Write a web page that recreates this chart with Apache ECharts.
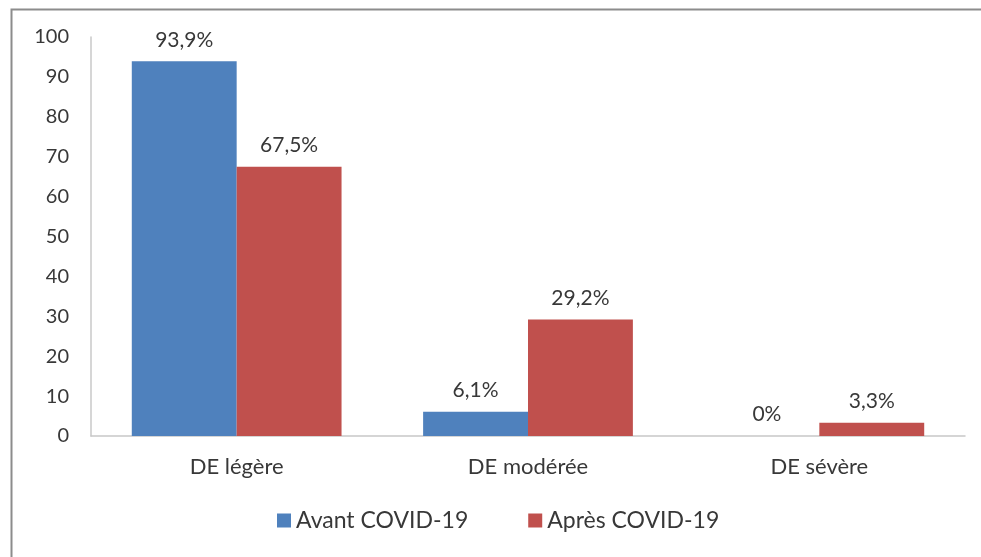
<!DOCTYPE html>
<html>
<head>
<meta charset="utf-8">
<script src="https://cdn.jsdelivr.net/npm/echarts@6/dist/echarts.min.js"></script>
<style>
  html, body { margin: 0; padding: 0; background: #fff; }
  #main { width: 981px; height: 557px; }
</style>
</head>
<body>
<div id="main"></div>
<script>
// categories and values
var categories = ['DE légère', 'DE modérée', 'DE sévère'];
var avantData = [93.9, 6.1, 0];
var apresData = [67.5, 29.2, 3.3];
var seriesNames = ['Avant COVID-19', 'Après COVID-19'];

var chart = echarts.init(document.getElementById('main'));

function pct(p) {
  return String(p.value).replace('.', ',') + '%';
}

var labelStyle = {
  show: true,
  position: 'top',
  distance: 11,
  formatter: pct,
  color: '#383838',
  fontSize: 21,
  fontFamily: 'Lato'
};

var option = {
  backgroundColor: '#fff',
  textStyle: { fontFamily: 'Lato' },
  graphic: [{
    type: 'rect',
    left: 9,
    top: 7,
    shape: { width: 990, height: 570 },
    style: { fill: 'none', stroke: '#8c8c8c', lineWidth: 2 },
    silent: true
  }],
  grid: { left: 91, right: 16, top: 37, bottom: 121 },
  legend: {
    bottom: 20,
    left: 272,
    itemWidth: 14,
    itemHeight: 14,
    itemGap: 60,
    icon: 'rect',
    textStyle: { fontSize: 23, color: '#383838', fontFamily: 'Lato' },
    data: seriesNames
  },
  xAxis: {
    type: 'category',
    data: categories,
    axisLine: { lineStyle: { color: '#c8c8c8', width: 1.5 } },
    axisTick: { show: false },
    axisLabel: { color: '#383838', fontSize: 22, margin: 20, fontFamily: 'Lato' }
  },
  yAxis: {
    type: 'value',
    min: 0,
    max: 100,
    interval: 10,
    axisLine: { show: true, lineStyle: { color: '#c8c8c8', width: 1.5 } },
    axisTick: { show: false },
    splitLine: { show: false },
    axisLabel: { color: '#383838', fontSize: 20, margin: 22, fontFamily: 'Lato' }
  },
  series: [{
    name: seriesNames[0],
    type: 'bar',
    data: avantData,
    barWidth: '36%',
    barGap: '0%',
    itemStyle: { color: '#4f81bd' },
    label: labelStyle
  }, {
    name: seriesNames[1],
    type: 'bar',
    data: apresData,
    barWidth: '36%',
    itemStyle: { color: '#c0504d' },
    label: labelStyle
  }]
};

chart.setOption(option);
</script>
</body>
</html>
